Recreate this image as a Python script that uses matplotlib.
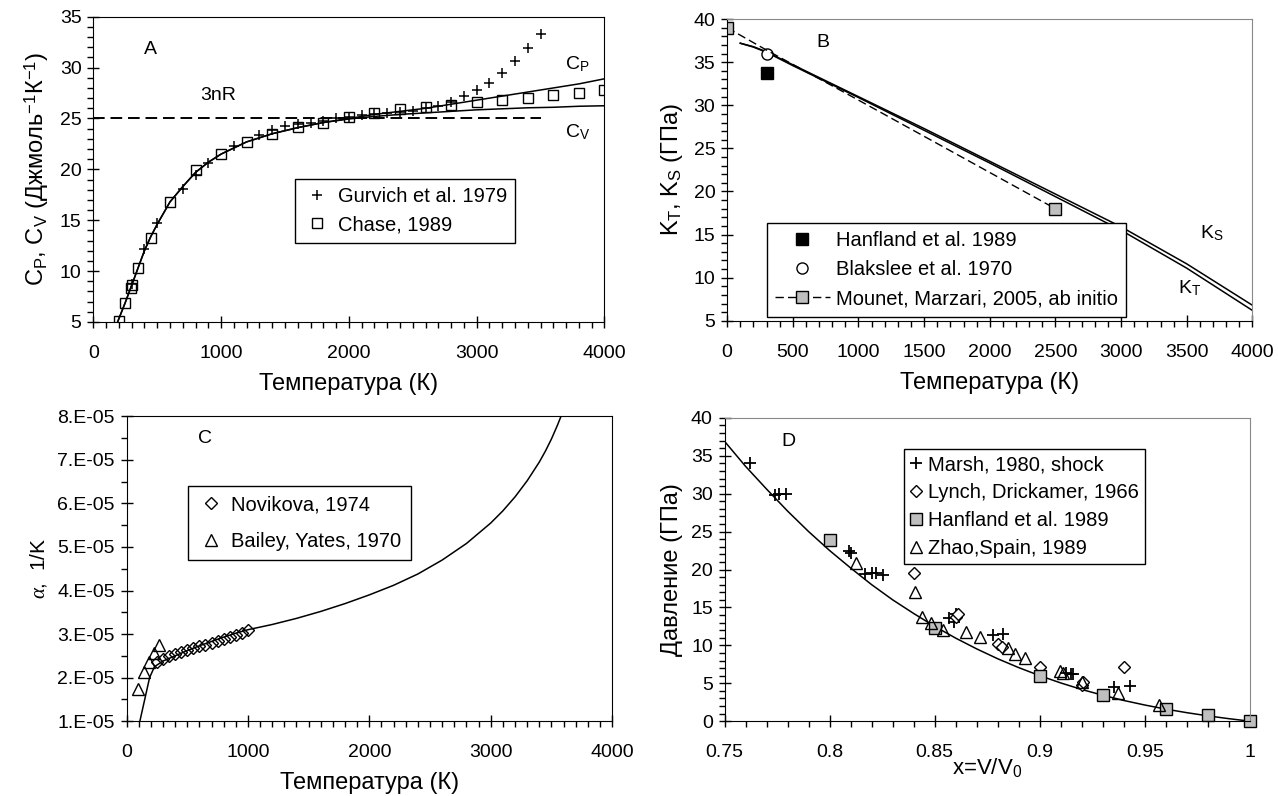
import matplotlib
matplotlib.use("Agg")
import matplotlib.pyplot as plt
import numpy as np
from matplotlib.ticker import MultipleLocator, FuncFormatter

plt.rcParams['font.family'] = ['Liberation Sans', 'DejaVu Sans']
plt.rcParams['mathtext.fontset'] = 'custom'
plt.rcParams['mathtext.rm'] = 'Liberation Sans'
plt.rcParams['mathtext.it'] = 'Liberation Serif:italic'
plt.rcParams['font.size'] = 14

# ---- panel A: heat capacity ----
chase_T = [200, 250, 298, 300, 350, 450, 600, 800, 1000, 1200, 1400, 1600, 1800,
           2000, 2200, 2400, 2600, 2800, 3000, 3200, 3400, 3600, 3800, 4000]
chase_C = [5.1, 6.9, 8.3, 8.6, 10.3, 13.3, 16.8, 19.9, 21.5, 22.7, 23.5, 24.2, 24.6,
           25.1, 25.5, 25.9, 26.1, 26.3, 26.6, 26.8, 27.0, 27.3, 27.5, 27.8]
gurvich_T = [300, 400, 500, 700, 800, 900, 1100, 1300, 1400, 1500, 1600, 1700, 1800,
             1900, 2000, 2100, 2200, 2300, 2400, 2500, 2600, 2700, 2800, 2900, 3000,
             3100, 3200, 3300, 3400, 3500]
gurvich_C = [8.7, 12.2, 14.7, 18.1, 19.4, 20.6, 22.3, 23.4, 23.9, 24.3, 24.5, 24.6, 24.8,
             25.0, 25.1, 25.3, 25.4, 25.5, 25.6, 25.7, 26.0, 26.2, 26.6, 27.2, 27.8,
             28.5, 29.5, 30.6, 31.9, 33.3]
cp_T = [190, 250, 300, 350, 400, 450, 500, 600, 700, 800, 900, 1000, 1200, 1400, 1600,
        1800, 2000, 2200, 2400, 2600, 2800, 3000, 3200, 3400, 3600, 3800, 4000]
cp_val = [5.0, 6.9, 8.6, 10.3, 12.0, 13.4, 14.6, 16.8, 18.3, 19.7, 20.7, 21.5, 22.7, 23.5,
          24.1, 24.6, 25.0, 25.4, 25.7, 26.0, 26.4, 26.8, 27.2, 27.6, 28.0, 28.4, 28.9]
cv_val = [5.0, 6.9, 8.6, 10.3, 12.0, 13.4, 14.6, 16.8, 18.3, 19.7, 20.7, 21.5, 22.7, 23.5,
          24.1, 24.6, 24.95, 25.2, 25.4, 25.55, 25.7, 25.85, 25.95, 26.05, 26.1, 26.2, 26.25]
dulong_T = [0, 3500]
dulong_val = [25, 25]

# ---- panel B: bulk moduli ----
kb_T = [100, 200, 300, 500, 1000, 1500, 2000, 2500, 3000, 3500, 4000]
ks_val = [37.2, 36.8, 36.2, 34.7, 31.0, 27.3, 23.5, 19.7, 15.9, 11.6, 6.8]
kt_val = [37.2, 36.75, 36.15, 34.6, 30.9, 27.1, 23.3, 19.4, 15.5, 11.1, 6.2]
hanfland_T, hanfland_K = [300], [33.7]
blakslee_T, blakslee_K = [300], [36.0]
mounet_T = [0, 300, 1000, 1500, 2000, 2500]
mounet_K = [39.0, 36.4, 30.6, 26.4, 22.2, 18.0]

# ---- panel C: thermal expansion (units 1e-5 1/K) ----
alpha_T = [110, 150, 190, 230, 300, 400, 500, 600, 700, 800, 900, 1000, 1200, 1400,
           1600, 1800, 2000, 2200, 2400, 2600, 2800, 3000, 3100, 3200, 3300, 3400,
           3450, 3500, 3550, 3600]
alpha_val = [1.0, 1.5, 2.0, 2.25, 2.38, 2.5, 2.62, 2.73, 2.83, 2.93, 3.02, 3.1, 3.22,
             3.36, 3.52, 3.7, 3.9, 4.12, 4.38, 4.7, 5.08, 5.55, 5.83, 6.15, 6.52, 6.95,
             7.2, 7.48, 7.8, 8.15]
novikova_T = [250, 300, 350, 400, 450, 500, 550, 600, 650, 700, 750, 800, 850, 900, 950, 1000]
novikova_a = [2.37, 2.43, 2.49, 2.54, 2.59, 2.63, 2.68, 2.72, 2.76, 2.80, 2.84, 2.88,
              2.93, 2.97, 3.02, 3.09]
bailey_T = [95, 140, 185, 225, 270]
bailey_a = [1.74, 2.13, 2.36, 2.57, 2.75]

# ---- panel D: equation of state ----
eos_x = [0.75, 0.76, 0.77, 0.78, 0.79, 0.80, 0.81, 0.82, 0.83, 0.84, 0.85, 0.86, 0.87,
         0.88, 0.89, 0.90, 0.91, 0.92, 0.93, 0.94, 0.95, 0.96, 0.97, 0.98, 0.99, 1.0]
eos_P = [36.9, 33.6, 30.6, 27.7, 25.0, 22.5, 20.2, 18.0, 16.0, 14.2, 12.5, 10.95, 9.53,
         8.23, 7.06, 6.0, 5.04, 4.18, 3.42, 2.73, 2.13, 1.59, 1.12, 0.70, 0.33, 0.0]
marsh_x = [0.762, 0.774, 0.776, 0.779, 0.809, 0.810, 0.817, 0.820, 0.822, 0.8255,
           0.857, 0.859, 0.860, 0.8775, 0.8825, 0.9127, 0.9147, 0.9157, 0.9353, 0.9431]
marsh_P = [34.0, 29.8, 29.9, 30.0, 22.4, 22.2, 19.4, 19.5, 19.5, 19.3,
           13.6, 13.1, 14.2, 11.4, 11.5, 6.3, 6.2, 6.2, 4.5, 4.6]
lynch_x = [0.840, 0.860, 0.861, 0.880, 0.882, 0.900, 0.920, 0.9206, 0.940]
lynch_P = [19.5, 13.8, 14.2, 10.2, 9.8, 7.2, 4.8, 5.2, 7.2]
hanf_x = [0.80, 0.85, 0.90, 0.93, 0.96, 0.98, 1.0]
hanf_P = [23.9, 12.3, 5.9, 3.4, 1.6, 0.8, 0.05]
zhao_x = [0.8127, 0.8408, 0.8441, 0.848, 0.8539, 0.8647, 0.8716, 0.8849, 0.8882, 0.8931,
          0.9098, 0.911, 0.920, 0.9373, 0.9569]
zhao_P = [20.8, 17.0, 13.7, 13.0, 12.0, 11.8, 11.1, 9.6, 8.9, 8.3,
          6.6, 6.3, 5.2, 3.7, 2.1]

fig = plt.figure(figsize=(12.78, 7.96), dpi=100)
axA = fig.add_axes([0.073, 0.5955, 0.400, 0.3835])
axB = fig.add_axes([0.569, 0.597, 0.411, 0.379])
axC = fig.add_axes([0.099, 0.094, 0.380, 0.383])
axD = fig.add_axes([0.567, 0.094, 0.411, 0.381])


def style(ax, gray_box):
    for s in ['top', 'right']:
        ax.spines[s].set_color('#888888' if gray_box else 'black')
    for s in ['left', 'bottom']:
        ax.spines[s].set_color('black')
    ax.tick_params(which='major', direction='inout', length=9, width=1,
                   top=False, right=False, labelsize=14)
    ax.tick_params(which='minor', direction='out', length=4, width=1,
                   top=False, right=False)
    ax.tick_params(axis='x', which='major', pad=12)
    ax.tick_params(axis='y', which='major', pad=4)


leg_kw = dict(frameon=True, fancybox=False, edgecolor='black', framealpha=1,
              fontsize=14.5, borderaxespad=0)

# A
style(axA, False)
axA.plot(cp_T, cp_val, color='black', lw=1.1)
axA.plot(cp_T, cv_val, color='black', lw=1.1)
axA.plot(dulong_T, dulong_val, color='black', lw=1.4, ls=(0, (6, 3)))
axA.plot(gurvich_T, gurvich_C, ls='none', marker='+', ms=7, mew=1.1, color='black',
         label='Gurvich et al. 1979')
axA.plot(chase_T, chase_C, ls='none', marker='s', ms=7, mew=1.0, mfc='none', mec='black',
         label='Chase, 1989')
axA.set_xlim(0, 4000)
axA.set_ylim(5, 35)
axA.xaxis.set_major_locator(MultipleLocator(1000))
axA.xaxis.set_minor_locator(MultipleLocator(100))
axA.yaxis.set_major_locator(MultipleLocator(5))
axA.yaxis.set_minor_locator(MultipleLocator(1))
axA.set_xlabel('Температура (К)', fontsize=17, labelpad=8)
axA.set_ylabel(r'C$_\mathregular{P}$, C$_\mathregular{V}$ (Джмоль$^\mathregular{-1}$К$^\mathregular{-1}$)',
               fontsize=17, labelpad=6)
axA.text(400, 31.8, 'A', fontsize=14, va='center')
axA.text(840, 27.3, '3nR', fontsize=14, va='center')
axA.text(3690, 30.3, r'C$_\mathregular{P}$', fontsize=14, va='center')
axA.text(3690, 23.7, r'C$_\mathregular{V}$', fontsize=14, va='center')
axA.legend(loc='upper left', bbox_to_anchor=(0.395, 0.467), handlelength=1.4,
           handletextpad=0.3, borderpad=0.4, labelspacing=0.45, **leg_kw)

# B
style(axB, True)
axB.plot(kb_T, ks_val, color='black', lw=1.1)
axB.plot(kb_T, kt_val, color='black', lw=1.1)
axB.plot(hanfland_T, hanfland_K, ls='none', marker='s', ms=8, color='black',
         label='Hanfland et al. 1989')
axB.plot(blakslee_T, blakslee_K, ls='none', marker='o', ms=8, mfc='white', mec='black',
         mew=1.0, label='Blakslee et al. 1970')
axB.plot(mounet_T, mounet_K, color='black', lw=1.0, ls=(0, (6, 3)), marker='s', ms=8,
         mfc='#bfbfbf', mec='black', markevery=[0, len(mounet_T) - 1],
         label='Mounet, Marzari, 2005, ab initio')
axB.set_xlim(0, 4000)
axB.set_ylim(5, 40)
axB.xaxis.set_major_locator(MultipleLocator(500))
axB.xaxis.set_minor_locator(MultipleLocator(100))
axB.yaxis.set_major_locator(MultipleLocator(5))
axB.yaxis.set_minor_locator(MultipleLocator(1))
axB.set_xlabel('Температура (К)', fontsize=17, labelpad=8)
axB.set_ylabel(r'K$_\mathregular{T}$, K$_\mathregular{S}$ (ГПа)', fontsize=17, labelpad=6)
axB.text(680, 37.3, 'B', fontsize=14, va='center')
axB.text(3600, 15.2, r'K$_\mathregular{S}$', fontsize=14, va='center')
axB.text(3430, 8.8, r'K$_\mathregular{T}$', fontsize=14, va='center')
axB.legend(loc='upper left', bbox_to_anchor=(0.076, 0.323), handlelength=2.7,
           handletextpad=0.3, borderpad=0.4, labelspacing=0.5, **leg_kw)

# C
style(axC, False)
axC.plot(alpha_T, np.array(alpha_val) * 1e-5, color='black', lw=1.1)
axC.plot(novikova_T, np.array(novikova_a) * 1e-5, ls='none', marker='D', ms=6.5, mfc='none',
         mec='black', mew=1.0, label='Novikova, 1974')
axC.plot(bailey_T, np.array(bailey_a) * 1e-5, ls='none', marker='^', ms=9, mfc='none',
         mec='black', mew=1.0, label='Bailey, Yates, 1970')
axC.set_xlim(0, 4000)
axC.set_ylim(1e-5, 8e-5)
axC.xaxis.set_major_locator(MultipleLocator(1000))
axC.xaxis.set_minor_locator(MultipleLocator(100))
axC.yaxis.set_major_locator(MultipleLocator(1e-5))
axC.yaxis.set_minor_locator(MultipleLocator(0.5e-5))
axC.yaxis.set_major_formatter(FuncFormatter(lambda v, p: '%d.E-05' % round(v * 1e5)))
axC.set_xlabel('Температура (К)', fontsize=17, labelpad=8)
axC.set_ylabel(r'$\alpha$,  1/K', fontsize=15, labelpad=6)
axC.text(590, 7.5e-5, 'C', fontsize=14, va='center')
axC.legend(loc='upper left', bbox_to_anchor=(0.127, 0.77), handlelength=1.4,
           handletextpad=0.3, borderpad=0.45, labelspacing=0.85, **leg_kw)

# D
style(axD, True)
axD.plot(eos_x, eos_P, color='black', lw=1.1)
axD.plot(marsh_x, marsh_P, ls='none', marker='+', ms=8, mew=1.3, color='black',
         label='Marsh, 1980, shock')
axD.plot(lynch_x, lynch_P, ls='none', marker='D', ms=6.5, mfc='white', mec='black',
         mew=1.0, label='Lynch, Drickamer, 1966')
axD.plot(hanf_x, hanf_P, ls='none', marker='s', ms=8, mfc='#bfbfbf', mec='black',
         mew=1.0, label='Hanfland et al. 1989', clip_on=False)
axD.plot(zhao_x, zhao_P, ls='none', marker='^', ms=8.5, mfc='none', mec='black',
         mew=1.0, label='Zhao,Spain, 1989')
axD.set_xlim(0.75, 1.0)
axD.set_ylim(0, 40)
axD.xaxis.set_major_locator(MultipleLocator(0.05))
axD.xaxis.set_minor_locator(MultipleLocator(0.01))
axD.yaxis.set_major_locator(MultipleLocator(5))
axD.yaxis.set_minor_locator(MultipleLocator(1))
axD.xaxis.set_major_formatter(FuncFormatter(lambda v, p: ('%.2f' % v).rstrip('0').rstrip('.')))
axD.set_xlabel(r'x=V/V$_\mathregular{0}$', fontsize=16, labelpad=-4)
axD.set_ylabel('Давление (ГПа)', fontsize=17, labelpad=6)
axD.text(0.777, 36.9, 'D', fontsize=14, va='center')
axD.legend(loc='upper left', bbox_to_anchor=(0.341, 0.8975), handlelength=0.6,
           handletextpad=0.3, borderpad=0.3, labelspacing=0.45, **leg_kw)

fig.savefig('out.png', dpi=100)
